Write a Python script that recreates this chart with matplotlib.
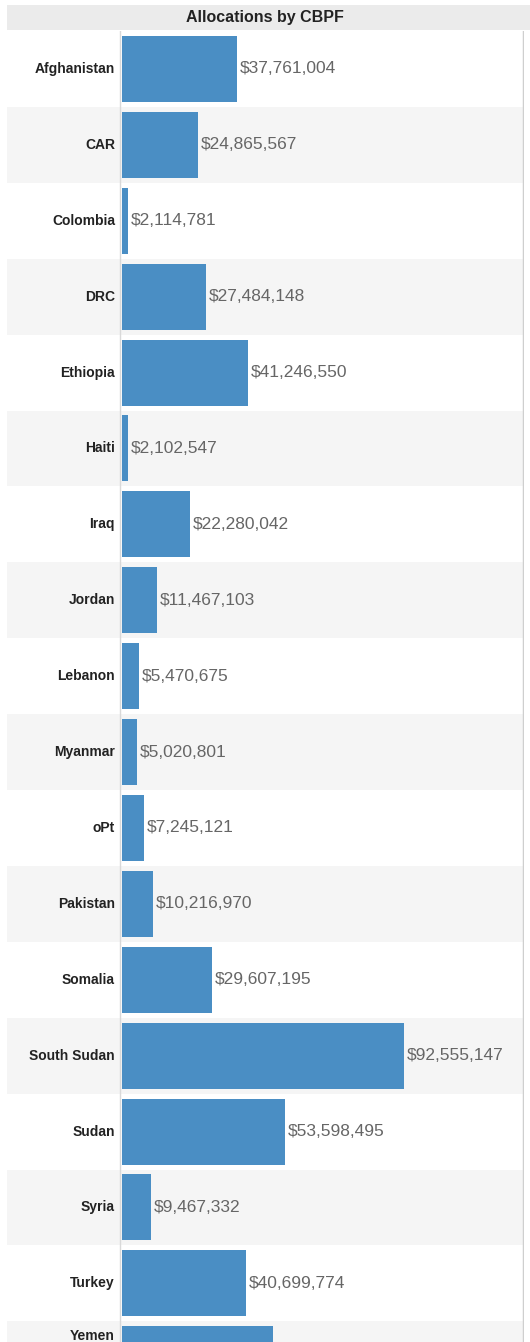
import matplotlib.pyplot as plt
from matplotlib.patches import Rectangle
from matplotlib.transforms import blended_transform_factory

countries = ["Afghanistan", "CAR", "Colombia", "DRC", "Ethiopia", "Haiti", "Iraq",
             "Jordan", "Lebanon", "Myanmar", "oPt", "Pakistan", "Somalia",
             "South Sudan", "Sudan", "Syria", "Turkey", "Yemen"]
allocations = [37761004, 24865567, 2114781, 27484148, 41246550, 2102547, 22280042,
               11467103, 5470675, 5020801, 7245121, 10216970, 29607195,
               92555147, 53598495, 9467332, 40699774, 49600000]
# Yemen's amount is cut off in the source, bar length estimated only
shown_labels = [True] * 17 + [False]

W, H = 530, 1342
BAR_COLOR = "#4a8ec4"
STRIPE = "#f5f5f5"

fig = plt.figure(figsize=(W / 100, H / 100), dpi=100)
fig.patch.set_facecolor("white")

# title bar
fig.patches.append(Rectangle((7 / W, 1 - 30 / H), (W - 7) / W, 25 / H,
                             transform=fig.transFigure, facecolor="#ebebeb",
                             edgecolor="none"))
fig.text(265 / W, 1 - 17.5 / H, "Allocations by CBPF", ha="center", va="center",
         fontsize=11.5, fontweight="bold", family="Liberation Sans", color="#222222")

# panel: from x=7 to x=524 px, top at y=31 px
left_px, right_px, top_px, bar0_px = 7, 524, 31, 122
row_px = 75.9
px_per_m = 3.046  # pixels per million
ax = fig.add_axes([left_px / W, 0, (right_px - left_px) / W, 1 - top_px / H])
xmin = -(bar0_px - left_px) / px_per_m * 1e6
xmax = (right_px - bar0_px) / px_per_m * 1e6
ybottom = -0.5 + (H - top_px) / row_px
ax.set_xlim(xmin, xmax)
ax.set_ylim(ybottom, -0.5)
ax.axis("off")

trans = blended_transform_factory(ax.transAxes, ax.transData)
for i in range(len(countries)):
    if i % 2 == 1:
        ax.add_patch(Rectangle((0, i - 0.5), 1, 1, transform=trans,
                               facecolor=STRIPE, edgecolor="none", zorder=0))

ax.barh(range(len(countries)), allocations, height=0.87, color=BAR_COLOR, zorder=2)
ax.axvline(-0.6e6, color="#d9d9d9", lw=1, zorder=1)
ax.axvline(xmax, color="#cfcfcf", lw=2.5, zorder=3)

for i, (name, val) in enumerate(zip(countries, allocations)):
    ypos = min(i, ybottom - 0.08)
    ax.text(-2.3e6, ypos, name, ha="right", va="center", fontsize=10,
            fontweight="bold", family="Liberation Sans", color="#222222")
    if shown_labels[i]:
        ax.text(val + 0.9e6, i, "${:,}".format(val), ha="left", va="center",
                fontsize=12.5, family="Liberation Sans", color="#666666")

fig.savefig("out.png", dpi=100)
